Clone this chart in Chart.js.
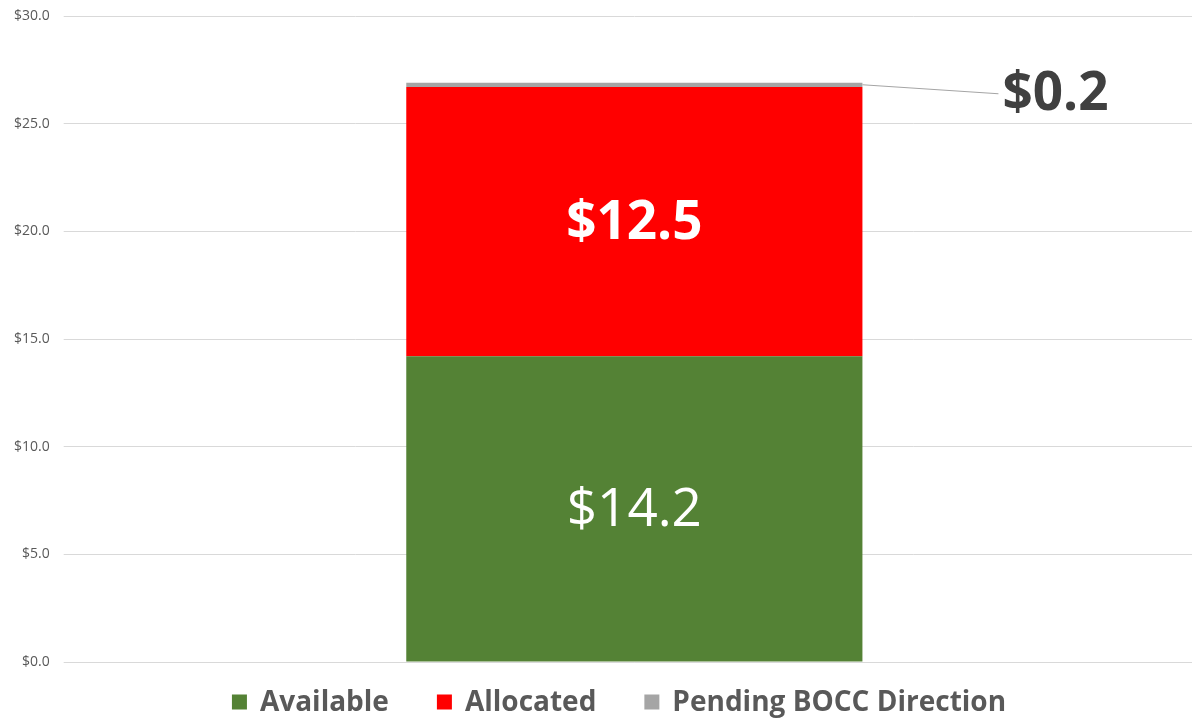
<!DOCTYPE html>
<html lang="en">
  <head>
    <meta charset="UTF-8" />
    <script src="https://cdn.jsdelivr.net/npm/chart.js@4.4.1/dist/chart.umd.min.js"></script>
    <style>
      html, body { margin: 0; padding: 0; background: #fff; }
      #wrap { width: 1192px; height: 718px; }
    </style>
  </head>
  <body>
    <div id="wrap"><canvas id="myChart"></canvas></div>
    <script>
      // chart data
      const categories = ["Funds"];
      const seriesNames = ["Available", "Allocated", "Pending BOCC Direction"];
      const available = [14.2];
      const allocated = [12.5];
      const pending = [0.2];
      const yTicks = [0, 5, 10, 15, 20, 25, 30];

      const colors = ["#548235", "#FF0000", "#A5A5A5"];

      // draws the value labels on the bars
      const valueLabels = {
        id: "valueLabels",
        afterDatasetsDraw(chart) {
          const ctx = chart.ctx;
          ctx.save();
          chart.data.datasets.forEach((ds, i) => {
            const bar = chart.getDatasetMeta(i).data[0];
            const text = "$" + ds.data[0].toFixed(1);
            ctx.textBaseline = "middle";
            if (i === 2) {
              // small slice: label outside with a leader line
              const x0 = bar.x + bar.width / 2;
              const y0 = bar.y + 2;
              ctx.strokeStyle = "#A5A5A5";
              ctx.lineWidth = 1.2;
              ctx.beginPath();
              ctx.moveTo(x0, y0);
              ctx.lineTo(x0 + 136, y0 + 9);
              ctx.stroke();
              ctx.fillStyle = "#404040";
              ctx.font = "bold 53px 'Open Sans'";
              ctx.textAlign = "left";
              ctx.fillText(text, x0 + 140, y0 + 10);
            } else {
              const mid = (bar.y + bar.base) / 2;
              ctx.fillStyle = "#ffffff";
              ctx.font = (i === 1 ? "bold " : "") + "53px 'Open Sans'";
              ctx.textAlign = "center";
              ctx.fillText(text, bar.x, mid + 2);
            }
          });
          ctx.restore();
        },
      };

      // legend drawn by hand so the item gaps can match the original
      const bottomLegend = {
        id: "bottomLegend",
        afterDraw(chart) {
          const ctx = chart.ctx;
          const box = 15, gapText = 13, gapItem = 48;
          ctx.save();
          ctx.font = "bold 28px 'Open Sans'";
          ctx.textBaseline = "middle";
          const items = chart.data.datasets.map((ds) => ({
            label: ds.label,
            color: ds.backgroundColor,
            w: box + gapText + ctx.measureText(ds.label).width,
          }));
          const total = items.reduce((s, it) => s + it.w, 0) + gapItem * (items.length - 1);
          let x = chart.width / 2 + 23 - total / 2;
          const y = chart.chartArea.bottom + 40;
          items.forEach((it) => {
            ctx.fillStyle = it.color;
            ctx.fillRect(x, y - box / 2, box, box);
            ctx.fillStyle = "#595959";
            ctx.textAlign = "left";
            ctx.fillText(it.label, x + box + gapText, y + 1);
            x += it.w + gapItem;
          });
          ctx.restore();
        },
      };

      const ctx = document.getElementById("myChart").getContext("2d");
      const myChart = new Chart(ctx, {
        type: "bar",
        data: {
          labels: categories,
          datasets: [
            { label: seriesNames[0], data: available, backgroundColor: colors[0] },
            { label: seriesNames[1], data: allocated, backgroundColor: colors[1] },
            { label: seriesNames[2], data: pending, backgroundColor: colors[2] },
          ].map((d) => ({ ...d, barPercentage: 1, categoryPercentage: 0.409 })),
        },
        options: {
          responsive: true,
          maintainAspectRatio: false,
          animation: false,
          layout: { padding: { top: 16, right: 0, left: 0, bottom: 48 } },
          plugins: {
            legend: { display: false },
            tooltip: { enabled: false },
          },
          scales: {
            x: {
              stacked: true,
              ticks: { display: false },
              grid: { display: false },
              border: { color: "#d9d9d9" },
            },
            y: {
              stacked: true,
              min: 0,
              max: 30,
              afterBuildTicks: (axis) => {
                axis.ticks = yTicks.map((v) => ({ value: v }));
              },
              // top tick label may sit in the layout padding
              afterFit: (axis) => {
                axis.paddingTop = 0;
              },
              border: { display: false },
              grid: { color: "#d9d9d9", tickLength: 13 },
              ticks: {
                color: "#595959",
                padding: 14,
                font: { size: 14, family: "'Open Sans'" },
                callback: (v) => "$" + Number(v).toFixed(1),
              },
            },
          },
        },
        plugins: [valueLabels, bottomLegend],
      });
    </script>
  </body>
</html>
